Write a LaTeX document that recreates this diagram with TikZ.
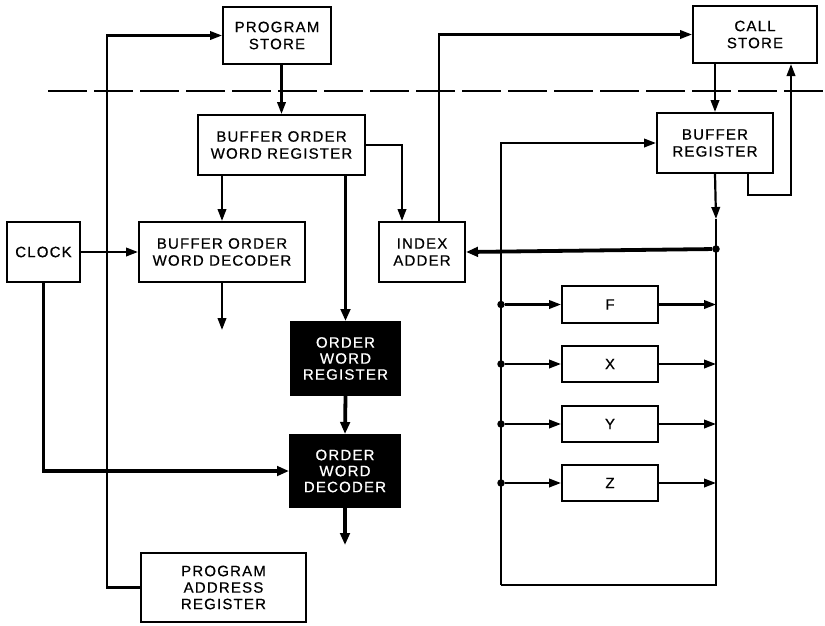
\documentclass[tikz,border=0pt]{standalone}
\usepackage{fontspec}
\setmainfont{Liberation Sans}[LetterSpace=8, FakeBold=0.6]
\usetikzlibrary{arrows.meta}
\begin{document}
\begin{tikzpicture}[x=1pt,y=-1pt,
  box/.style={draw, line width=2pt, inner sep=0pt, align=center, font=\fontsize{15}{17}\selectfont},
  dark/.style={box, fill=black, text=white},
  ln/.style={line width=2.2pt},
  thk/.style={line width=3.8pt},
  arr/.style={ln, -{Triangle[length=12pt,width=8.5pt]}},
  tarr/.style={thk, -{Triangle[length=12pt,width=9.5pt]}},
  jdot/.style={circle, fill, inner sep=0pt, minimum size=7.5pt}]
\useasboundingbox (0,0) rectangle (825,625);
\fill[white] (0,0) rectangle (825,625);

% dashed divider
\draw[line width=2pt, dash pattern=on 39pt off 7pt] (48,91) -- (825,91);

% boxes
\node[box, minimum width=108pt, minimum height=57pt] (ps) at (277,35.5) {PROGRAM\\STORE};
\node[box, minimum width=167pt, minimum height=60pt] (bowr) at (281.5,145) {BUFFER ORDER\\WORD REGISTER};
\node[box, minimum width=73pt, minimum height=60pt] (clock) at (43.5,252) {CLOCK};
\node[box, minimum width=166pt, minimum height=60pt] (bowd) at (222,252) {BUFFER ORDER\\WORD DECODER};
\node[box, minimum width=86pt, minimum height=60pt] (ia) at (422,252) {INDEX\\ADDER};
\node[dark, minimum width=109pt, minimum height=73pt, font=\fontsize{15}{16}\selectfont] (owr) at (345.5,358.5) {ORDER\\WORD\\REGISTER};
\node[dark, minimum width=110pt, minimum height=72pt, font=\fontsize{15}{16}\selectfont] (owd) at (345,471) {ORDER\\WORD\\DECODER};
\node[box, minimum width=165pt, minimum height=69pt, font=\fontsize{15}{16.5}\selectfont] (par) at (223.5,587.5) {PROGRAM\\ADDRESS\\REGISTER};
\node[box, minimum width=124pt, minimum height=57pt] (cs) at (755,34.5) {CALL\\STORE};
\node[box, minimum width=116pt, minimum height=60pt] (br) at (715,143) {BUFFER\\REGISTER};
\node[box, minimum width=96pt, minimum height=37pt] (F) at (610,304.5) {F};
\node[box, minimum width=96pt, minimum height=36pt] (X) at (610,364) {X};
\node[box, minimum width=96pt, minimum height=36pt] (Y) at (610,424) {Y};
\node[box, minimum width=96pt, minimum height=36pt] (Z) at (610,483) {Z};

% free ends and junctions
\coordinate (bowdout) at (222,330);
\coordinate (owdout) at (345,545);
\coordinate (bl) at (501,585);
\coordinate (brc) at (716,585);
\coordinate (ah) at (716,219);
\node[jdot] (jA) at (716,249) {};
\foreach \n/\yy in {F/304.5, X/364, Y/424, Z/483} {
  \node[jdot] (d\n) at (501,\yy) {};
  \coordinate (r\n) at (716,\yy);
  \draw[arr] (d\n) -- (\n.west);
  \draw[arr] (\n.east) -- (r\n);
}

% connectors
\draw[arr] (ps.south -| bowr.north) -- (bowr.north);
\draw[arr] (bowr.south -| bowd.north) -- (bowd.north);
\draw[arr] (bowr.east) -| ([xshift=-20pt]ia.north);
\draw[tarr] (bowr.south -| owr.north) -- (owr.north);
\draw[arr] (clock.east) -- (bowd.west);
\draw[arr] (bowd.south) -- (bowdout);
\draw[tarr] (owr.south) -- (owd.north);
\draw[tarr] (owd.south) -- (owdout);
\draw[tarr] (clock.south) |- (owd.west);
\draw[arr] (par.west) -- ++(-33,0) |- (ps.west);
\draw[arr] ([xshift=17pt]ia.north) |- (cs.west);
\draw[arr] (br.north |- cs.south) -- (br.north);
\draw[arr] ([xshift=33pt]br.south) -- ++(0,21) -| ([xshift=36pt]cs.south);
\draw[arr] (br.south) -- (ah);
\draw[ln] (ah) -- (brc) -- (bl);
\draw[arr] (bl) |- (br.west);
\draw[tarr] (jA) -- (ia.east);
\end{tikzpicture}
\end{document}
